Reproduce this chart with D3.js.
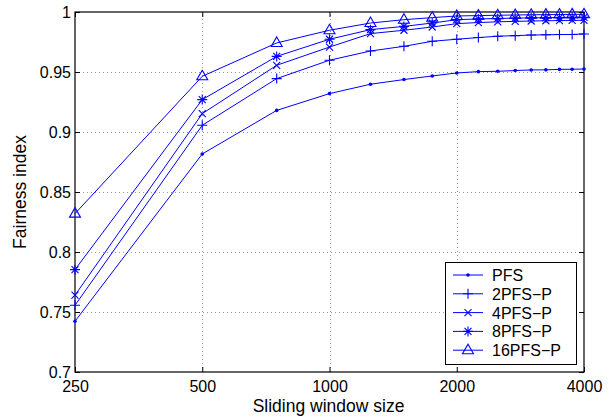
<!DOCTYPE html>
<html>
<head>
<meta charset="utf-8">
<script src="https://cdn.jsdelivr.net/npm/d3@7"></script>
<style>
  body { margin: 0; background: #fff; }
  svg text { font-family: "Liberation Sans", Arial, Helvetica, sans-serif; fill: #000; }
</style>
</head>
<body>
<div id="chart"></div>
<script>
// data
var windowSizes = [250, 500, 750, 1000, 1250, 1500, 1750, 2000, 2250, 2500, 2750, 3000, 3250, 3500, 3750, 4000];
var pfs    = [0.7423, 0.8817, 0.918, 0.932, 0.9398, 0.9437, 0.9467, 0.9492, 0.9503, 0.9506, 0.9512, 0.9517, 0.9518, 0.9522, 0.9523, 0.9525];
var pfs2   = [0.7556, 0.9056, 0.9445, 0.9598, 0.9675, 0.9714, 0.9756, 0.9773, 0.9787, 0.9798, 0.9803, 0.9808, 0.981, 0.9812, 0.9813, 0.9817];
var pfs4   = [0.764, 0.9153, 0.9556, 0.9708, 0.982, 0.9848, 0.9875, 0.9903, 0.9912, 0.9918, 0.9922, 0.9925, 0.9927, 0.9929, 0.993, 0.9931];
var pfs8   = [0.7853, 0.927, 0.963, 0.9773, 0.9853, 0.988, 0.9908, 0.9936, 0.9942, 0.9946, 0.9949, 0.9951, 0.9953, 0.9954, 0.9955, 0.9956];
var pfs16  = [0.832, 0.9464, 0.9742, 0.9848, 0.9908, 0.9936, 0.9953, 0.9967, 0.997, 0.9973, 0.9975, 0.9977, 0.9978, 0.9979, 0.998, 0.9981];
var seriesNames = ["PFS", "2PFS\u2212P", "4PFS\u2212P", "8PFS\u2212P", "16PFS\u2212P"];
var markerTypes = ["dot", "plus", "cross", "star", "triangle"];
var xTicks = [250, 500, 1000, 2000, 4000];
var yTicks = [0.7, 0.75, 0.8, 0.85, 0.9, 0.95, 1];

var width = 614, height = 418;
var margin = {top: 12, right: 30, bottom: 46, left: 75};
var blue = "#0000ff";

var svg = d3.select("#chart")
  .append("svg")
  .attr("width", width)
  .attr("height", height);

// scales
var xScale = d3.scaleLog()
  .base(2)
  .domain([250, 4000])
  .range([margin.left, width - margin.right]);

var yScale = d3.scaleLinear()
  .domain([0.7, 1])
  .range([height - margin.bottom, margin.top]);

var x0 = margin.left, x1 = width - margin.right;
var y0 = height - margin.bottom, y1 = margin.top;

// grid (dotted)
var grid = svg.append("g").attr("class", "grid")
  .style("stroke", "#999")
  .style("stroke-width", 1)
  .style("stroke-dasharray", "1,3");

grid.selectAll(".gx")
  .data(xTicks.slice(1, -1))
  .enter().append("line")
  .attr("x1", d => Math.round(xScale(d)) + 0.5)
  .attr("x2", d => Math.round(xScale(d)) + 0.5)
  .attr("y1", y0)
  .attr("y2", y1);

grid.selectAll(".gy")
  .data(yTicks.slice(1, -1))
  .enter().append("line")
  .attr("x1", x0)
  .attr("x2", x1)
  .attr("y1", d => Math.round(yScale(d)) + 0.5)
  .attr("y2", d => Math.round(yScale(d)) + 0.5);

// axes with inward ticks on all four sides
var xAxisB = d3.axisBottom(xScale).tickValues(xTicks).tickSize(-5).tickFormat(d => d);
var xAxisT = d3.axisTop(xScale).tickValues(xTicks).tickSize(-5).tickFormat("");
var yAxisL = d3.axisLeft(yScale).tickValues(yTicks).tickSize(-5).tickFormat(d => d);
var yAxisR = d3.axisRight(yScale).tickValues(yTicks).tickSize(-5).tickFormat("");

function styleAxis(g) {
  g.select(".domain").remove();
  g.selectAll(".tick line").style("stroke", "#000");
  g.selectAll(".tick text").style("font-size", "16px")
    .style("font-family", "'Liberation Sans', Arial, sans-serif");
}

svg.append("g")
  .attr("transform", `translate(0,${y0})`)
  .call(xAxisB)
  .call(styleAxis)
  .selectAll(".tick text")
  .attr("y", 9);

svg.append("g")
  .attr("transform", `translate(0,${y1})`)
  .call(xAxisT)
  .call(styleAxis);

svg.append("g")
  .attr("transform", `translate(${x0},0)`)
  .call(yAxisL)
  .call(styleAxis)
  .selectAll(".tick text")
  .attr("x", -4);

svg.append("g")
  .attr("transform", `translate(${x1},0)`)
  .call(yAxisR)
  .call(styleAxis);

// frame
svg.append("rect")
  .attr("x", x0)
  .attr("y", y1)
  .attr("width", x1 - x0)
  .attr("height", y0 - y1)
  .attr("fill", "none")
  .attr("stroke", "#000")
  .attr("stroke-width", 1.2);

// axis labels
svg.append("text")
  .attr("x", (x0 + x1) / 2 - 1)
  .attr("y", 412)
  .attr("text-anchor", "middle")
  .style("font-size", "17.5px")
  .text("Sliding window size");

svg.append("text")
  .attr("transform", `translate(26,${(y0 + y1) / 2}) rotate(-90)`)
  .attr("text-anchor", "middle")
  .style("font-size", "17.5px")
  .text("Fairness index");

// marker drawing
function drawMarker(g, type, cx, cy) {
  if (type === "dot") {
    g.append("circle").attr("cx", cx).attr("cy", cy).attr("r", 1.8)
      .attr("fill", blue).attr("stroke", "none");
  } else if (type === "plus") {
    g.append("path").attr("d", `M${cx-5},${cy}H${cx+5}M${cx},${cy-5}V${cy+5}`)
      .attr("stroke", blue).attr("fill", "none").attr("stroke-width", 1.1);
  } else if (type === "cross") {
    g.append("path").attr("d", `M${cx-3.5},${cy-3.5}L${cx+3.5},${cy+3.5}M${cx-3.5},${cy+3.5}L${cx+3.5},${cy-3.5}`)
      .attr("stroke", blue).attr("fill", "none").attr("stroke-width", 1.1);
  } else if (type === "star") {
    g.append("path").attr("d", `M${cx-5},${cy}H${cx+5}M${cx},${cy-5}V${cy+5}M${cx-3.5},${cy-3.5}L${cx+3.5},${cy+3.5}M${cx-3.5},${cy+3.5}L${cx+3.5},${cy-3.5}`)
      .attr("stroke", blue).attr("fill", "none").attr("stroke-width", 1.1);
  } else if (type === "triangle") {
    g.append("path").attr("d", `M${cx},${cy-6}L${cx+5.5},${cy+3.5}L${cx-5.5},${cy+3.5}Z`)
      .attr("stroke", blue).attr("fill", "none").attr("stroke-width", 1.1);
  }
}

var allSeries = [pfs, pfs2, pfs4, pfs8, pfs16];

var line = d3.line()
  .x((d, i) => xScale(windowSizes[i]))
  .y(d => yScale(d));

var linesG = svg.append("g").attr("class", "lines");

allSeries.forEach(function(values, s) {
  linesG.append("path")
    .datum(values)
    .attr("d", line)
    .attr("fill", "none")
    .attr("stroke", blue)
    .attr("stroke-width", 1);
  var mg = linesG.append("g");
  values.forEach(function(v, i) {
    drawMarker(mg, markerTypes[s], xScale(windowSizes[i]), yScale(v));
  });
});

// legend
var legend = svg.append("g").attr("class", "legend");
legend.append("rect")
  .attr("x", 445.5)
  .attr("y", 262.5)
  .attr("width", 131)
  .attr("height", 102)
  .attr("fill", "#fff")
  .attr("stroke", "#000")
  .attr("stroke-width", 1);

seriesNames.forEach(function(name, i) {
  var ly = 275 + i * 18.8;
  legend.append("line")
    .attr("x1", 453).attr("x2", 483)
    .attr("y1", ly).attr("y2", ly)
    .attr("stroke", blue).attr("stroke-width", 1);
  drawMarker(legend, markerTypes[i], 468, ly);
  legend.append("text")
    .attr("x", 492)
    .attr("y", ly + 6)
    .style("font-size", "16px")
    .text(name);
});
</script>
</body>
</html>
